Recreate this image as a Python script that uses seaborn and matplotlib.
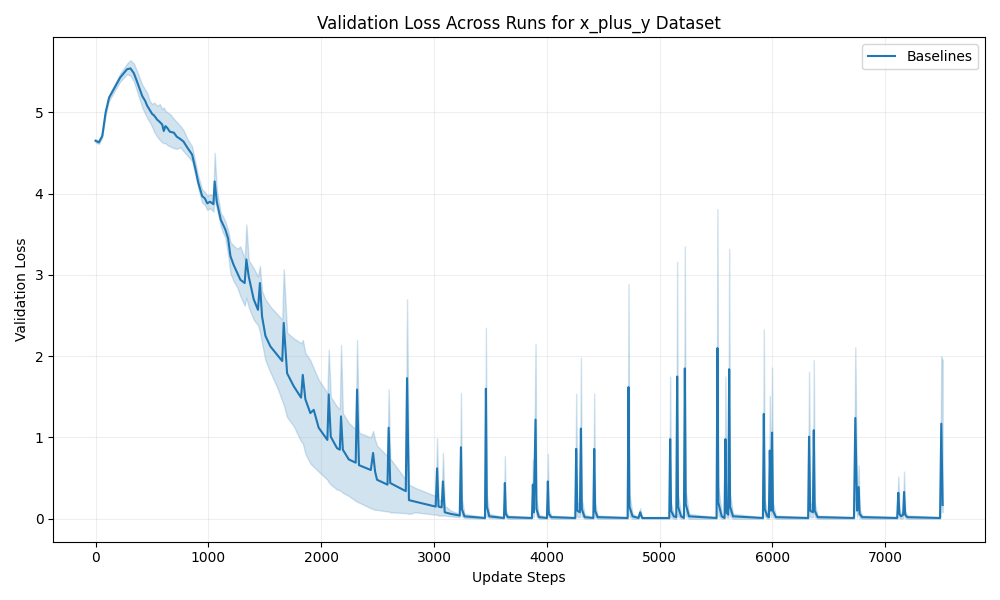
import pandas as pd
import seaborn as sns
import matplotlib.pyplot as plt

# Values (mean loss and the shaded band around it)
steps = [
    0, 30, 60, 90, 120, 160, 220, 280, 310, 340, 370, 414, 440, 458, 480, 502, 520, 546, 570, 591,
    605, 620, 635, 660, 694, 720, 753, 780, 812, 856, 886, 910, 945, 970, 990, 1015, 1045,
    1056, 1075, 1110, 1130, 1150, 1175, 1196, 1225, 1255, 1284, 1322, 1337, 1358, 1402, 1440, 1457,
    1476, 1506, 1550, 1609, 1655, 1668, 1698, 1757, 1822, 1837, 1860, 1904, 1934, 1978, 2055,
    2067, 2085, 2140, 2165, 2176, 2192, 2245, 2306, 2318, 2335, 2440, 2460, 2478, 2495, 2588,
    2598, 2612, 2750, 2761, 2778, 2835, 3015, 3027, 3040, 3068, 3079, 3095, 3150, 3228,
    3239, 3247, 3270, 3452, 3460, 3468, 3490, 3620, 3628, 3636, 3655,
    3868, 3876, 3884, 3900, 3908, 3930, 4001, 4009, 4017, 4040,
    4252, 4260, 4270, 4293, 4302, 4310, 4335, 4412, 4420, 4428, 4450,
    4716, 4724, 4732, 4760, 4812, 4827, 4845,
    5085, 5093, 5101, 5125, 5147, 5155, 5163, 5190, 5215, 5223, 5231, 5260,
    5504, 5512, 5520, 5550, 5575, 5583, 5591, 5608, 5616, 5624, 5650,
    5915, 5923, 5931, 5955, 5968, 5976, 5986, 5996, 6004, 6030,
    6316, 6324, 6334, 6358, 6366, 6374, 6400,
    6722, 6734, 6750, 6764, 6772, 6795,
    7105, 7115, 7125, 7140, 7158, 7166, 7176, 7195, 7485, 7496, 7508,
]
mean_loss = [
    4.65, 4.63, 4.71, 5.00, 5.18, 5.28, 5.43, 5.53, 5.54, 5.48, 5.37, 5.20, 5.14, 5.08, 5.03, 4.98, 4.96, 4.91, 4.88, 4.85,
    4.77, 4.83, 4.81, 4.76, 4.75, 4.70, 4.67, 4.64, 4.57, 4.48, 4.30, 4.14, 3.97, 3.94, 3.88, 3.90, 3.87,
    4.15, 3.90, 3.68, 3.62, 3.56, 3.45, 3.23, 3.12, 3.03, 2.94, 2.90, 3.19, 2.98, 2.70, 2.57, 2.90,
    2.49, 2.25, 2.12, 2.02, 1.94, 2.41, 1.79, 1.63, 1.49, 1.77, 1.47, 1.30, 1.34, 1.12, 0.97,
    1.53, 1.01, 0.87, 0.85, 1.26, 0.85, 0.73, 0.69, 1.59, 0.66, 0.60, 0.81, 0.58, 0.48, 0.42,
    1.12, 0.44, 0.34, 1.73, 0.23, 0.21, 0.15, 0.62, 0.15, 0.14, 0.46, 0.08, 0.06, 0.04,
    0.88, 0.12, 0.03, 0.01, 1.60, 0.15, 0.03, 0.01, 0.44, 0.06, 0.02,
    0.01, 0.42, 0.08, 1.22, 0.12, 0.02, 0.01, 0.46, 0.06, 0.02,
    0.01, 0.86, 0.10, 0.08, 1.11, 0.12, 0.02, 0.01, 0.86, 0.10, 0.02,
    0.01, 1.62, 0.15, 0.03, 0.01, 0.08, 0.01,
    0.01, 0.98, 0.10, 0.03, 0.02, 1.75, 0.15, 0.03, 0.01, 1.85, 0.18, 0.03,
    0.01, 2.10, 0.20, 0.03, 0.01, 0.98, 0.08, 0.05, 1.84, 0.15, 0.03,
    0.01, 1.29, 0.12, 0.03, 0.02, 0.84, 0.10, 1.06, 0.10, 0.02,
    0.01, 1.01, 0.10, 0.08, 1.09, 0.10, 0.02,
    0.01, 1.24, 0.10, 0.39, 0.06, 0.02,
    0.01, 0.32, 0.06, 0.03, 0.05, 0.33, 0.05, 0.02, 0.01, 1.17, 0.17,
]
lower_band = [
    4.63, 4.61, 4.69, 4.97, 5.14, 5.24, 5.38, 5.47, 5.45, 5.38, 5.25, 5.06, 4.98, 4.93, 4.88, 4.82, 4.76, 4.70, 4.66, 4.63,
    4.62, 4.62, 4.60, 4.58, 4.56, 4.55, 4.57, 4.52, 4.47, 4.40, 4.22, 4.07, 3.89, 3.86, 3.80, 3.82, 3.78,
    3.95, 3.82, 3.60, 3.52, 3.46, 3.25, 3.02, 2.92, 2.85, 2.74, 2.62, 2.72, 2.60, 2.45, 2.38, 2.30,
    2.16, 1.95, 1.80, 1.62, 1.45, 1.40, 1.25, 1.14, 0.95, 0.93, 0.80, 0.68, 0.64, 0.58, 0.48,
    0.45, 0.42, 0.36, 0.35, 0.34, 0.32, 0.28, 0.22, 0.21, 0.20, 0.13, 0.12, 0.11, 0.11, 0.09,
    0.09, 0.08, 0.07, 0.07, 0.06, 0.08, 0.05, 0.05, 0.04, 0.04, 0.04, 0.04, 0.03, 0.02,
    0.20, 0.03, 0.01, 0.00, 0.30, 0.03, 0.01, 0.00, 0.10, 0.02, 0.00,
    0.00, 0.10, 0.02, 0.30, 0.03, 0.00, 0.00, 0.10, 0.02, 0.00,
    0.00, 0.20, 0.02, 0.02, 0.25, 0.03, 0.00, 0.00, 0.20, 0.02, 0.00,
    0.00, 0.35, 0.03, 0.00, 0.00, 0.04, 0.00,
    0.00, 0.20, 0.02, 0.00, 0.00, 0.35, 0.03, 0.00, 0.00, 0.40, 0.04, 0.00,
    0.00, 0.40, 0.04, 0.00, 0.00, 0.20, 0.02, 0.01, 0.35, 0.03, 0.00,
    0.00, 0.25, 0.03, 0.00, 0.00, 0.20, 0.02, 0.20, 0.02, 0.00,
    0.00, 0.20, 0.02, 0.02, 0.20, 0.02, 0.00,
    0.00, 0.25, 0.02, 0.10, 0.01, 0.00,
    0.00, 0.08, 0.01, 0.00, 0.01, 0.08, 0.01, 0.00, 0.00, 0.25, 0.08,
]
upper_band = [
    4.67, 4.65, 4.73, 5.03, 5.21, 5.32, 5.48, 5.60, 5.64, 5.60, 5.50, 5.34, 5.28, 5.24, 5.14, 5.10, 5.12, 5.08, 5.10, 5.04,
    5.06, 5.02, 5.00, 4.98, 4.92, 4.88, 4.83, 4.78, 4.68, 4.58, 4.38, 4.22, 4.05, 4.02, 3.97, 3.99, 3.98,
    4.50, 4.05, 3.76, 3.72, 3.66, 3.55, 3.40, 3.36, 3.32, 3.35, 3.20, 3.62, 3.18, 3.08, 2.98, 3.11,
    2.80, 2.70, 2.61, 2.52, 2.45, 3.07, 2.29, 2.22, 2.16, 2.20, 2.04, 1.95, 1.85, 1.71, 1.55,
    2.08, 1.50, 1.38, 1.35, 2.14, 1.30, 1.18, 1.10, 2.20, 1.06, 1.00, 1.08, 0.97, 0.90, 0.77,
    1.59, 0.74, 0.48, 2.70, 0.42, 0.38, 0.28, 0.99, 0.24, 0.22, 0.81, 0.16, 0.10, 0.06,
    1.55, 0.25, 0.06, 0.02, 2.35, 0.30, 0.06, 0.02, 0.77, 0.12, 0.04,
    0.02, 0.73, 0.15, 2.15, 0.25, 0.05, 0.02, 0.80, 0.12, 0.04,
    0.02, 1.54, 0.20, 0.18, 1.98, 0.25, 0.05, 0.02, 1.54, 0.20, 0.04,
    0.02, 2.89, 0.30, 0.06, 0.02, 0.13, 0.02,
    0.02, 1.75, 0.20, 0.06, 0.04, 3.16, 0.30, 0.06, 0.02, 3.35, 0.35, 0.06,
    0.02, 3.81, 0.40, 0.06, 0.02, 1.75, 0.16, 0.10, 3.32, 0.30, 0.06,
    0.02, 2.33, 0.24, 0.06, 0.04, 1.51, 0.20, 1.86, 0.20, 0.04,
    0.02, 1.81, 0.20, 0.16, 1.95, 0.20, 0.04,
    0.02, 2.11, 0.20, 0.66, 0.12, 0.04,
    0.02, 0.52, 0.12, 0.06, 0.10, 0.58, 0.10, 0.04, 0.02, 2.00, 1.95,
]

df = pd.DataFrame({
    'step': steps,
    'mean': mean_loss,
    'lower': lower_band,
    'upper': upper_band,
})

plt.figure(figsize=(10, 6))
ax = sns.lineplot(data=df, x='step', y='mean', label='Baselines',
                  color='#1f77b4', linewidth=1.5, errorbar=None)
# shaded spread across runs
ax.fill_between(df['step'], df['lower'], df['upper'], color='#1f77b4', alpha=0.2)

ax.set_title('Validation Loss Across Runs for x_plus_y Dataset')
ax.set_xlabel('Update Steps')
ax.set_ylabel('Validation Loss')
ax.legend(loc='upper right')
ax.grid(True, alpha=0.2)
plt.tight_layout()
plt.savefig('out.png', dpi=100)
plt.close()
